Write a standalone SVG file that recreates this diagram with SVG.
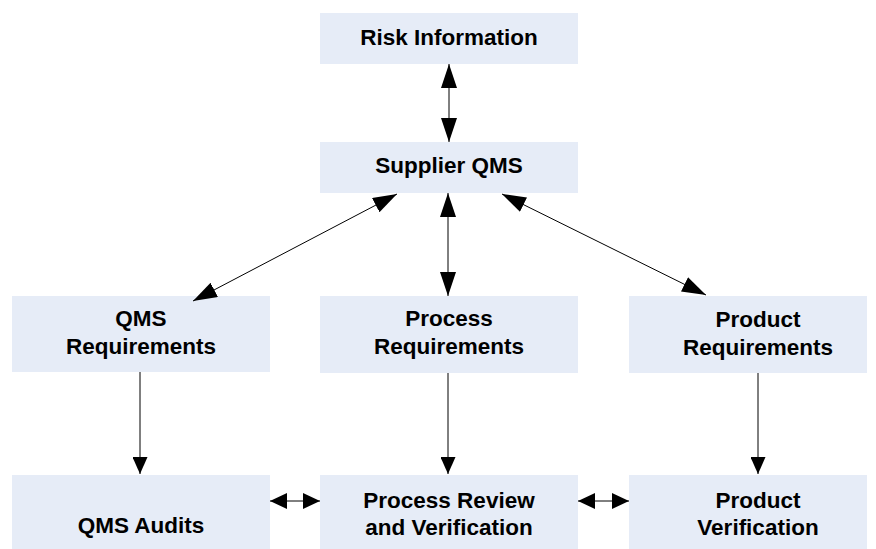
<svg xmlns="http://www.w3.org/2000/svg" width="876" height="549" viewBox="0 0 876 549">
<defs>
<style>
.box{fill:#E6ECF7;stroke:none}
.t{font-family:"Liberation Sans",Arial,sans-serif;font-weight:bold;font-size:22.5px;fill:#000;text-anchor:middle}
.c{stroke:#000;stroke-width:1;fill:none}
</style>
<marker id="big" markerUnits="userSpaceOnUse" viewBox="0 0 24 16" markerWidth="24" markerHeight="16" refX="24" refY="8" orient="auto-start-reverse"><path d="M0,0 L24,8 L0,16 z" fill="#000"/></marker>
<marker id="sm" markerUnits="userSpaceOnUse" viewBox="0 0 17 15" markerWidth="17" markerHeight="15" refX="17" refY="7.5" orient="auto-start-reverse"><path d="M0,0 L17,7.5 L0,15 z" fill="#000"/></marker>
<marker id="hz" markerUnits="userSpaceOnUse" viewBox="0 0 17 16" markerWidth="17" markerHeight="16" refX="17" refY="8" orient="auto-start-reverse"><path d="M0,0 L17,8 L0,16 z" fill="#000"/></marker>
</defs>
<rect width="876" height="549" fill="#fff"/>
<g id="risk"><rect class="box" x="320" y="13" width="258" height="51"/><text class="t" x="449" y="45">Risk Information</text></g>
<g id="supplier"><rect class="box" x="320" y="142" width="258" height="51"/><text class="t" x="449" y="173">Supplier QMS</text></g>
<g id="qmsreq"><rect class="box" x="12" y="296" width="258" height="76"/><text class="t" x="141" y="326">QMS</text><text class="t" x="141" y="354">Requirements</text></g>
<g id="procreq"><rect class="box" x="320" y="296" width="258" height="77"/><text class="t" x="449" y="326">Process</text><text class="t" x="449" y="354">Requirements</text></g>
<g id="prodreq"><rect class="box" x="629" y="296" width="238" height="77"/><text class="t" x="758" y="327">Product</text><text class="t" x="758" y="355">Requirements</text></g>
<g id="qmsaudit"><rect class="box" x="12" y="475" width="258" height="74"/><text class="t" x="141" y="533">QMS Audits</text></g>
<g id="procrev"><rect class="box" x="320" y="475" width="258" height="74"/><text class="t" x="449" y="508">Process Review</text><text class="t" x="449" y="535">and Verification</text></g>
<g id="prodver"><rect class="box" x="629" y="475" width="238" height="74"/><text class="t" x="758" y="508">Product</text><text class="t" x="758" y="535">Verification</text></g>
<g id="connectors">
<line class="c" x1="449" y1="64" x2="449" y2="142" marker-start="url(#big)" marker-end="url(#big)"/>
<line class="c" x1="448" y1="193" x2="448" y2="296" marker-start="url(#big)" marker-end="url(#big)"/>
<line class="c" x1="397" y1="194" x2="193" y2="301" marker-start="url(#big)" marker-end="url(#big)"/>
<line class="c" x1="502" y1="194" x2="706" y2="295" marker-start="url(#big)" marker-end="url(#big)"/>
<line class="c" x1="140" y1="372" x2="140" y2="474" marker-end="url(#sm)"/>
<line class="c" x1="448" y1="373" x2="448" y2="474" marker-end="url(#sm)"/>
<line class="c" x1="758" y1="373" x2="758" y2="474" marker-end="url(#sm)"/>
<line class="c" x1="270" y1="501" x2="320" y2="501" marker-start="url(#hz)" marker-end="url(#hz)"/>
<line class="c" x1="578" y1="501" x2="629" y2="501" marker-start="url(#hz)" marker-end="url(#hz)"/>
</g>
</svg>
